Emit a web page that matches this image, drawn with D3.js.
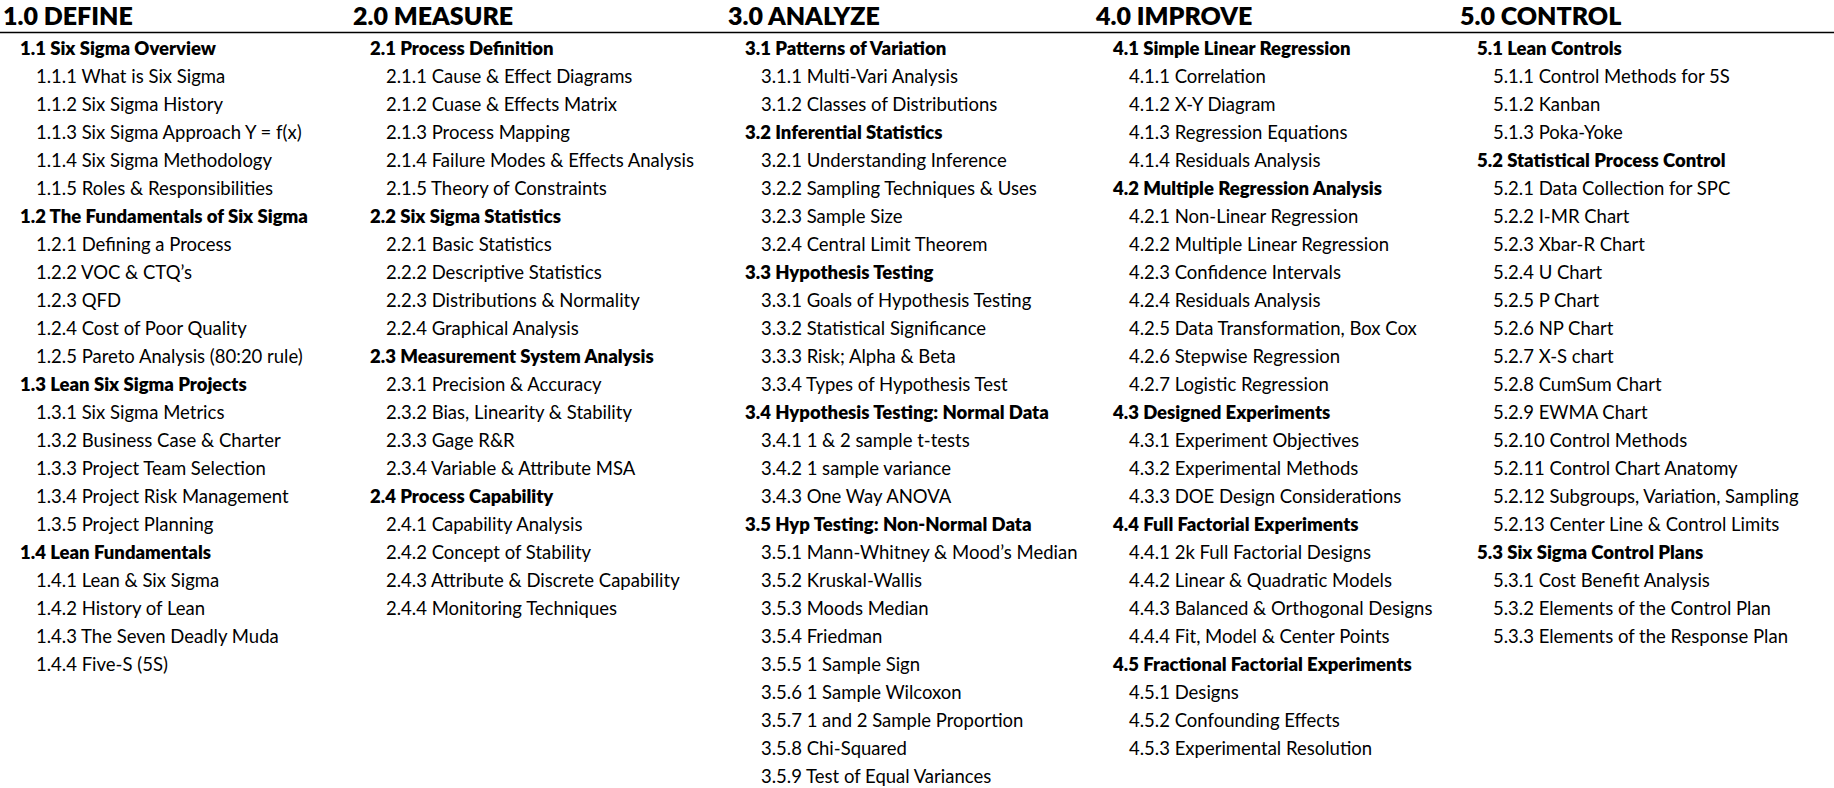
<!DOCTYPE html>
<html><head><meta charset="utf-8">
<script src="https://cdn.jsdelivr.net/npm/d3@7"></script>
<style>
  body { margin: 0; background: #fff; }
  text { font-family: Lato, "Noto Sans", sans-serif; fill: #000; }
</style></head>
<body><svg id="outline" width="1834" height="788"></svg>
<script>
// Titres des colonnes (phases DMAIC)
const PHASES = ["1.0 DEFINE", "2.0 MEASURE", "3.0 ANALYZE", "4.0 IMPROVE", "5.0 CONTROL"];
const PHASE_X = [3, 353, 728, 1096, 1460];

// Contenu de chaque colonne : le niveau se déduit du nombre de points
const DEFINE = ["1.1 Six Sigma Overview", "1.1.1 What is Six Sigma", "1.1.2 Six Sigma History",
  "1.1.3 Six Sigma Approach Y = f(x)", "1.1.4 Six Sigma Methodology", "1.1.5 Roles & Responsibilities",
  "1.2 The Fundamentals of Six Sigma", "1.2.1 Defining a Process", "1.2.2 VOC & CTQ’s", "1.2.3 QFD",
  "1.2.4 Cost of Poor Quality", "1.2.5 Pareto Analysis (80:20 rule)", "1.3 Lean Six Sigma Projects",
  "1.3.1 Six Sigma Metrics", "1.3.2 Business Case & Charter", "1.3.3 Project Team Selection",
  "1.3.4 Project Risk Management", "1.3.5 Project Planning", "1.4 Lean Fundamentals",
  "1.4.1 Lean & Six Sigma", "1.4.2 History of Lean", "1.4.3 The Seven Deadly Muda", "1.4.4 Five-S (5S)"];
const MEASURE = ["2.1 Process Definition", "2.1.1 Cause & Effect Diagrams", "2.1.2 Cuase & Effects Matrix",
  "2.1.3 Process Mapping", "2.1.4 Failure Modes & Effects Analysis", "2.1.5 Theory of Constraints",
  "2.2 Six Sigma Statistics", "2.2.1 Basic Statistics", "2.2.2 Descriptive Statistics",
  "2.2.3 Distributions & Normality", "2.2.4 Graphical Analysis", "2.3 Measurement System Analysis",
  "2.3.1 Precision & Accuracy", "2.3.2 Bias, Linearity & Stability", "2.3.3 Gage R&R",
  "2.3.4 Variable & Attribute MSA", "2.4 Process Capability", "2.4.1 Capability Analysis",
  "2.4.2 Concept of Stability", "2.4.3 Attribute & Discrete Capability", "2.4.4 Monitoring Techniques"];
const ANALYZE = ["3.1 Patterns of Variation", "3.1.1 Multi-Vari Analysis", "3.1.2 Classes of Distributions",
  "3.2 Inferential Statistics", "3.2.1 Understanding Inference", "3.2.2 Sampling Techniques & Uses",
  "3.2.3 Sample Size", "3.2.4 Central Limit Theorem", "3.3 Hypothesis Testing",
  "3.3.1 Goals of Hypothesis Testing", "3.3.2 Statistical Significance", "3.3.3 Risk; Alpha & Beta",
  "3.3.4 Types of Hypothesis Test", "3.4 Hypothesis Testing: Normal Data", "3.4.1 1 & 2 sample t-tests",
  "3.4.2 1 sample variance", "3.4.3 One Way ANOVA", "3.5 Hyp Testing: Non-Normal Data",
  "3.5.1 Mann-Whitney & Mood’s Median", "3.5.2 Kruskal-Wallis", "3.5.3 Moods Median", "3.5.4 Friedman",
  "3.5.5 1 Sample Sign", "3.5.6 1 Sample Wilcoxon", "3.5.7 1 and 2 Sample Proportion",
  "3.5.8 Chi-Squared", "3.5.9 Test of Equal Variances"];
const IMPROVE = ["4.1 Simple Linear Regression", "4.1.1 Correlation", "4.1.2 X-Y Diagram",
  "4.1.3 Regression Equations", "4.1.4 Residuals Analysis", "4.2 Multiple Regression Analysis",
  "4.2.1 Non-Linear Regression", "4.2.2 Multiple Linear Regression", "4.2.3 Confidence Intervals",
  "4.2.4 Residuals Analysis", "4.2.5 Data Transformation, Box Cox", "4.2.6 Stepwise Regression",
  "4.2.7 Logistic Regression", "4.3 Designed Experiments", "4.3.1 Experiment Objectives",
  "4.3.2 Experimental Methods", "4.3.3 DOE Design Considerations", "4.4 Full Factorial Experiments",
  "4.4.1 2k Full Factorial Designs", "4.4.2 Linear & Quadratic Models", "4.4.3 Balanced & Orthogonal Designs",
  "4.4.4 Fit, Model & Center Points", "4.5 Fractional Factorial Experiments", "4.5.1 Designs",
  "4.5.2 Confounding Effects", "4.5.3 Experimental Resolution"];
const CONTROL = ["5.1 Lean Controls", "5.1.1 Control Methods for 5S", "5.1.2 Kanban", "5.1.3 Poka-Yoke",
  "5.2 Statistical Process Control", "5.2.1 Data Collection for SPC", "5.2.2 I-MR Chart",
  "5.2.3 Xbar-R Chart", "5.2.4 U Chart", "5.2.5 P Chart", "5.2.6 NP Chart", "5.2.7 X-S chart",
  "5.2.8 CumSum Chart", "5.2.9 EWMA Chart", "5.2.10 Control Methods", "5.2.11 Control Chart Anatomy",
  "5.2.12 Subgroups, Variation, Sampling", "5.2.13 Center Line & Control Limits",
  "5.3 Six Sigma Control Plans", "5.3.1 Cost Benefit Analysis", "5.3.2 Elements of the Control Plan",
  "5.3.3 Elements of the Response Plan"];
const COLUMNS = [DEFINE, MEASURE, ANALYZE, IMPROVE, CONTROL];

const SVG = d3.select("#outline");
const WIDTH = 1834;

// Échelle verticale : indice de ligne -> position (28 px par ligne)
const SCALE_Y = d3.scaleLinear().domain([0, 1]).range([55, 83]);
const INDENT = { 2: 17, 3: 33 };

// Titres et trait horizontal
SVG.selectAll("text.phase").data(PHASES).enter().append("text")
  .attr("class", "phase")
  .attr("x", (d, i) => PHASE_X[i])
  .attr("y", 25)
  .attr("font-size", 25).attr("font-weight", 800)
  .text(d => d);

SVG.append("line")
  .attr("x1", 0).attr("x2", WIDTH).attr("y1", 32.5).attr("y2", 32.5)
  .attr("stroke", "#000").attr("stroke-width", 1.3);

// Entrées de chaque colonne
COLUMNS.forEach((items, c) => {
  SVG.append("g").selectAll("text").data(items).enter().append("text")
    .attr("x", d => PHASE_X[c] + INDENT[d.split(" ")[0].split(".").length])
    .attr("y", (d, i) => SCALE_Y(i))
    .attr("font-size", 18.5)
    .attr("font-weight", d => d.split(" ")[0].split(".").length === 2 ? 800 : 400)
    .text(d => d);
});
</script></body></html>
